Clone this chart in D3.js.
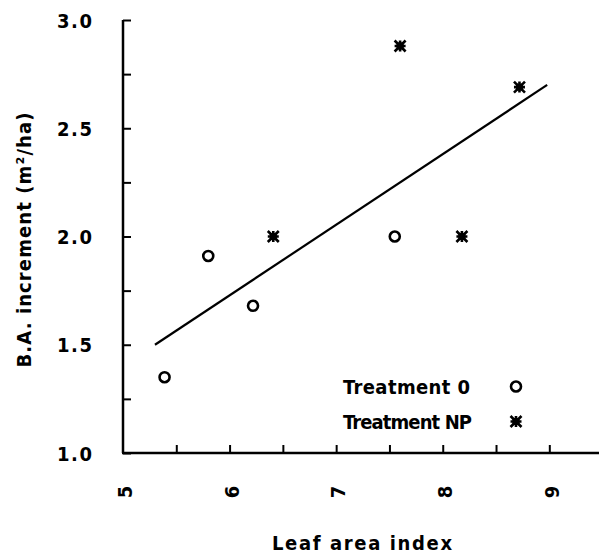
<!DOCTYPE html>
<html>
<head>
<meta charset="utf-8">
<script src="https://cdn.jsdelivr.net/npm/d3@7"></script>
<style>
  html, body { margin: 0; padding: 0; background: #fff; }
  svg { display: block; }
  text { font-family: "DejaVu Sans Condensed", "DejaVu Sans", sans-serif; font-weight: bold; fill: #000; }
</style>
</head>
<body>
<svg id="chart" width="599" height="556"></svg>
<script>
// Leaf area index vs basal area increment, two fertiliser treatments
const laiTreat0 = [5.39, 5.80, 6.22, 7.55];
const baTreat0  = [1.35, 1.91, 1.68, 2.00];
const laiTreatNP = [6.41, 7.60, 8.18, 8.72];
const baTreatNP  = [2.00, 2.88, 2.00, 2.69];
// fitted regression line end points
const fitLai = [5.30, 8.98];
const fitBa  = [1.50, 2.70];

const xTickValues = [5.5, 6, 6.5, 7, 7.5, 8, 8.5, 9];
const xTickLabels = [5, 6, 7, 8, 9];
const yTickValues = [1.0, 1.25, 1.5, 1.75, 2.0, 2.25, 2.5, 2.75, 3.0];
const yTickLabels = [1.0, 1.5, 2.0, 2.5, 3.0];
const legendLabels = ["Treatment 0", "Treatment NP"];

const svg = d3.select("#chart");
const x = d3.scaleLinear().domain([5, 9.5]).range([123, 602.6]);
const y = d3.scaleLinear().domain([1, 3]).range([453, 20]);

// y axis: inward ticks, labels on the left
const yAxis = d3.axisLeft(y)
  .tickValues(yTickValues)
  .tickSizeInner(-8).tickSizeOuter(0)
  .tickPadding(31)
  .tickFormat(d => yTickLabels.some(v => Math.abs(v - d) < 1e-9) ? d3.format(".1f")(d) : "");
const gy = svg.append("g").attr("transform", `translate(${x(5)},0)`).call(yAxis);
gy.select(".domain").attr("stroke-width", 2.5).attr("d", `M0,${y(3)}V${y(1)}`);
gy.selectAll(".tick line").attr("stroke-width", 2);
gy.selectAll(".tick text")
  .attr("font-family", null).attr("font-weight", "bold")
  .attr("font-size", 20).attr("dy", "0.36em")
  .attr("textLength", d => yTickLabels.some(v => Math.abs(v - d) < 1e-9) ? 35 : null)
  .attr("lengthAdjust", "spacing");

// x axis: inward ticks, rotated labels drawn below
const xAxis = d3.axisBottom(x)
  .tickValues(xTickValues)
  .tickSizeInner(-8).tickSizeOuter(0)
  .tickFormat("");
const gx = svg.append("g").attr("transform", `translate(0,${y(1)})`).call(xAxis);
gx.select(".domain").attr("stroke-width", 2.5).attr("d", `M${x(5) - 1},0H599`);
gx.selectAll(".tick line").attr("stroke-width", 2);

svg.append("g").selectAll("text").data(xTickLabels).join("text")
  .attr("transform", d => `translate(${x(d) + 2},492) rotate(-90)`)
  .attr("text-anchor", "middle").attr("dy", "0.36em")
  .attr("font-size", 20)
  .text(d => d);

// axis titles
svg.append("text")
  .attr("x", 362).attr("y", 550)
  .attr("text-anchor", "middle").attr("font-size", 20)
  .attr("textLength", 180).attr("lengthAdjust", "spacing")
  .text("Leaf area index");

svg.append("text")
  .attr("transform", "translate(31,240) rotate(-90)")
  .attr("text-anchor", "middle").attr("font-size", 20)
  .attr("textLength", 255).attr("lengthAdjust", "spacing")
  .text("B.A. increment (m²/ha)");

// regression line
svg.append("line")
  .attr("x1", x(fitLai[0])).attr("y1", y(fitBa[0]))
  .attr("x2", x(fitLai[1])).attr("y2", y(fitBa[1]))
  .attr("stroke", "#000").attr("stroke-width", 2.2);

// markers
function circleMark(g) {
  g.append("circle").attr("r", 5).attr("fill", "none")
    .attr("stroke", "#000").attr("stroke-width", 2.6);
}
function starMark(g) {
  const s = 5.5;
  g.append("rect").attr("x", -3.5).attr("y", -3.5).attr("width", 7).attr("height", 7).attr("fill", "#000");
  g.append("path")
    .attr("d", `M${-s},0H${s}M0,${-s}V${s}M${-s},${-s}L${s},${s}M${-s},${s}L${s},${-s}`)
    .attr("stroke", "#000").attr("stroke-width", 2.6).attr("fill", "none");
}

const pts0 = laiTreat0.map((v, i) => ({ lai: v, ba: baTreat0[i] }));
const ptsNP = laiTreatNP.map((v, i) => ({ lai: v, ba: baTreatNP[i] }));

svg.append("g").selectAll("g").data(pts0).join("g")
  .attr("transform", d => `translate(${x(d.lai)},${y(d.ba)})`)
  .each(function () { circleMark(d3.select(this)); });

svg.append("g").selectAll("g").data(ptsNP).join("g")
  .attr("transform", d => `translate(${x(d.lai)},${y(d.ba)})`)
  .each(function () { starMark(d3.select(this)); });

// legend
const legend = svg.append("g");
const rowsY = [386.5, 421.5];
const legendWidths = [127, 129];
legendLabels.forEach((lab, i) => {
  legend.append("text")
    .attr("x", 343).attr("y", rowsY[i]).attr("dy", "0.36em")
    .attr("font-size", 20)
    .attr("textLength", legendWidths[i]).attr("lengthAdjust", "spacing")
    .text(lab);
  const m = legend.append("g").attr("transform", `translate(516,${rowsY[i]})`);
  if (i === 0) circleMark(m); else starMark(m);
});
</script>
</body>
</html>
